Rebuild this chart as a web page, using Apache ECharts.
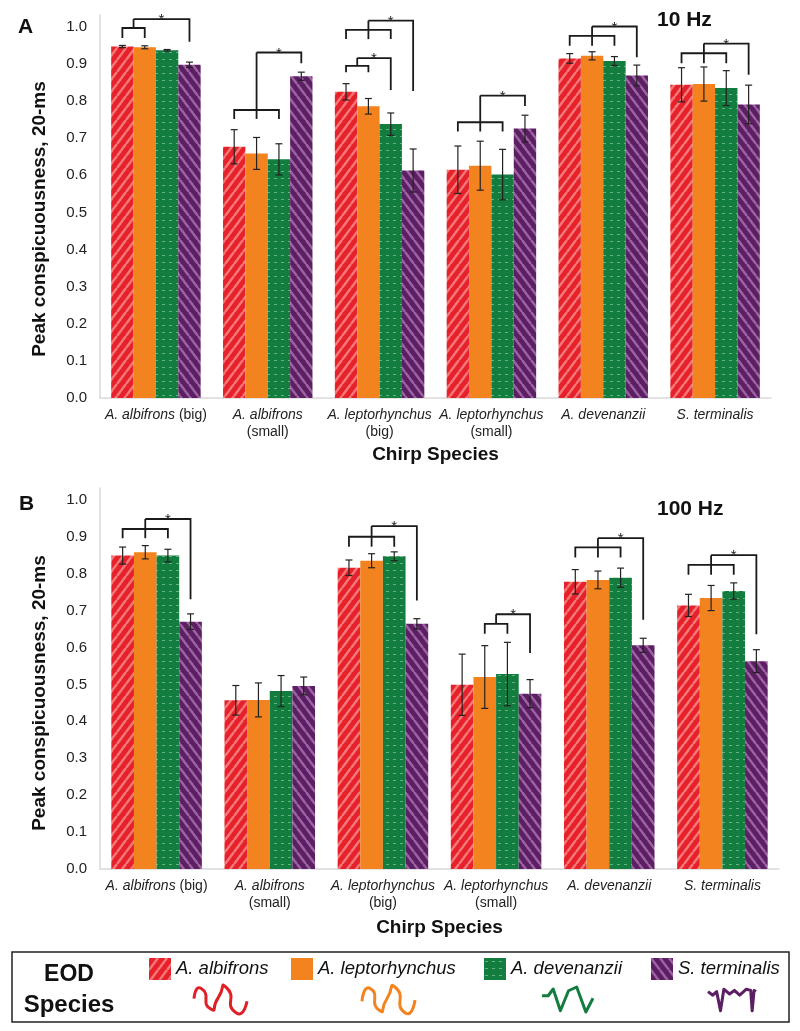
<!DOCTYPE html>
<html>
<head>
<meta charset="utf-8">
<script src="https://cdn.jsdelivr.net/npm/echarts@6.0.0/dist/echarts.min.js"></script>
<style>
html, body { margin: 0; padding: 0; background: #fff; }
#chart { width: 800px; height: 1031px; }
</style>
</head>
<body>
<div id="chart"></div>
<script>
const FONT = '"Liberation Sans", Arial, Helvetica, sans-serif'

// chirp species (x categories) and their tick labels
const categories = ['A. albifrons (big)', 'A. albifrons (small)', 'A. leptorhynchus (big)', 'A. leptorhynchus (small)', 'A. devenanzii', 'S. terminalis']
const tickLabels = ['{i|A. albifrons} (big)', '{i|A. albifrons}\n(small)', '{i|A. leptorhynchus}\n(big)', '{i|A. leptorhynchus}\n(small)', '{i|A. devenanzii}', '{i|S. terminalis}']
// EOD species (series)
const eodSpecies = ['A. albifrons', 'A. leptorhynchus', 'A. devenanzii', 'S. terminalis']

// panel A, 10 Hz
const mean10Albifrons = [0.947, 0.677, 0.825, 0.615, 0.915, 0.844]
const mean10Leptorhynchus = [0.945, 0.659, 0.786, 0.626, 0.922, 0.846]
const mean10Devenanzii = [0.937, 0.643, 0.738, 0.602, 0.908, 0.835]
const mean10Terminalis = [0.898, 0.867, 0.613, 0.726, 0.869, 0.791]
const err10Albifrons = [0.003, 0.046, 0.022, 0.064, 0.013, 0.046]
const err10Leptorhynchus = [0.004, 0.043, 0.021, 0.066, 0.011, 0.046]
const err10Devenanzii = [0.002, 0.042, 0.030, 0.068, 0.012, 0.047]
const err10Terminalis = [0.007, 0.011, 0.058, 0.036, 0.028, 0.052]

// panel B, 100 Hz
const mean100Albifrons = [0.849, 0.457, 0.816, 0.499, 0.778, 0.714]
const mean100Leptorhynchus = [0.858, 0.458, 0.835, 0.520, 0.783, 0.734]
const mean100Devenanzii = [0.849, 0.482, 0.847, 0.528, 0.789, 0.753]
const mean100Terminalis = [0.670, 0.496, 0.664, 0.475, 0.606, 0.563]
const err100Albifrons = [0.023, 0.040, 0.021, 0.083, 0.033, 0.030]
const err100Leptorhynchus = [0.018, 0.046, 0.019, 0.085, 0.024, 0.034]
const err100Devenanzii = [0.017, 0.042, 0.012, 0.086, 0.026, 0.022]
const err100Terminalis = [0.021, 0.024, 0.014, 0.038, 0.019, 0.031]

// significance brackets: [category, lowerFromBar, lowerToBar, lowerLevel, legEnd, upperLevel, targetBar, targetLegEnd]
const brackets10 = [
  [0, 0, 1, 0.997, 0.970, 1.021, 3, 0.960],
  [1, 0, 2, 0.776, 0.752, 0.931, 3, 0.902],
  [2, 0, 1, 0.895, 0.878, 0.916, 2, 0.830],
  [2, 0, 2, 0.992, 0.967, 1.017, 3, 0.827],
  [3, 0, 2, 0.743, 0.718, 0.815, 3, 0.787],
  [4, 0, 2, 0.976, 0.949, 1.001, 3, 0.918],
  [5, 0, 2, 0.929, 0.902, 0.955, 3, 0.871]
]
const brackets100 = [
  [0, 0, 2, 0.921, 0.896, 0.948, 3, 0.731],
  [2, 0, 2, 0.900, 0.873, 0.929, 3, 0.727],
  [3, 1, 2, 0.664, 0.637, 0.690, 3, 0.585],
  [4, 0, 2, 0.871, 0.844, 0.896, 3, 0.675],
  [5, 0, 2, 0.824, 0.797, 0.850, 3, 0.636]
]

// little EOD waveform icons under the legend (normalised shapes)
const waveRed = [[0, 0.45], [0.13, 0.05], [0.32, 0.85], [0.46, 0.4], [0.6, 0.0], [0.8, 1.0], [1, 0.55]]
const waveOrange = [[0, 0.55], [0.15, 0.05], [0.33, 0.9], [0.47, 0.45], [0.62, 0.0], [0.82, 1.0], [1, 0.5]]
const waveGreen = [[0, 0.35], [0.12, 0.35], [0.22, 0.08], [0.36, 0.95], [0.52, 0.15], [0.68, 0.0], [0.86, 1.0], [1, 0.45]]
const waveTerminalis = [[0, 0.15], [0.1, 0.3], [0.18, 0.15], [0.26, 0.95], [0.33, 0.05], [0.45, 0.25], [0.55, 0.1], [0.66, 0.3], [0.8, 0.05], [0.89, 0.1], [0.92, 0.95], [0.96, 0.1], [1, 0.15]]

function stripes (bg, fg, dir) {
  const c = document.createElement('canvas')
  c.width = 9
  c.height = 12
  const g = c.getContext('2d')
  g.fillStyle = bg
  g.fillRect(0, 0, 9, 12)
  g.strokeStyle = fg
  g.lineWidth = 2.5
  for (let k = -1; k <= 1; k++) {
    g.beginPath()
    if (dir > 0) { g.moveTo(k * 9, 12); g.lineTo(k * 9 + 9, 0) } else { g.moveTo(k * 9, 0); g.lineTo(k * 9 + 9, 12) }
    g.stroke()
  }
  return { image: c, repeat: 'repeat' }
}
function dashes (bg, fg) {
  const c = document.createElement('canvas')
  c.width = 7
  c.height = 7
  const g = c.getContext('2d')
  g.fillStyle = bg
  g.fillRect(0, 0, 7, 7)
  g.fillStyle = fg
  g.fillRect(1, 3, 3, 1)
  return { image: c, repeat: 'repeat' }
}

const fills = [
  stripes('#e6212a', '#f4787a', 1),
  '#f2831f',
  dashes('#137c3f', 'rgba(150,215,170,0.6)'),
  stripes('#5d1f63', '#9c63a1', -1)
]

const meanSets = [
  [mean10Albifrons, mean10Leptorhynchus, mean10Devenanzii, mean10Terminalis],
  [mean100Albifrons, mean100Leptorhynchus, mean100Devenanzii, mean100Terminalis]
]
const errSets = [
  [err10Albifrons, err10Leptorhynchus, err10Devenanzii, err10Terminalis],
  [err100Albifrons, err100Leptorhynchus, err100Devenanzii, err100Terminalis]
]
const bracketSets = [brackets10, brackets100]

function barX (api, cat, bar) {
  const band = api.size([1, 0])[0]
  const bw = band * 0.8 / 4
  return api.coord([cat, 0])[0] + (bar - 1.5) * bw
}

function renderError (params, api) {
  const cat = api.value(0)
  const bar = api.value(1)
  const m = api.value(2)
  const e = api.value(3)
  const x = barX(api, cat, bar)
  const yt = api.coord([cat, m + e])[1]
  const yb = api.coord([cat, m - e])[1]
  const cap = 3.5
  const style = { stroke: '#222', lineWidth: 1.2 }
  return {
    type: 'group',
    children: [
      { type: 'line', shape: { x1: x, y1: yt, x2: x, y2: yb }, style },
      { type: 'line', shape: { x1: x - cap, y1: yt, x2: x + cap, y2: yt }, style },
      { type: 'line', shape: { x1: x - cap, y1: yb, x2: x + cap, y2: yb }, style }
    ]
  }
}

function renderBracket (params, api) {
  const cat = api.value(0)
  const from = api.value(1)
  const to = api.value(2)
  const yLow = api.coord([cat, api.value(3)])[1]
  const yLeg = api.coord([cat, api.value(4)])[1]
  const yTop = api.coord([cat, api.value(5)])[1]
  const target = api.value(6)
  const yTarget = api.coord([cat, api.value(7)])[1]
  const xf = barX(api, cat, from)
  const xt = barX(api, cat, to)
  const xm = (xf + xt) / 2
  const xg = barX(api, cat, target)
  const stemBottom = (to - from) % 2 === 0 ? yLeg : yLow
  const style = { stroke: '#1a1a1a', lineWidth: 1.8, fill: null }
  return {
    type: 'group',
    children: [
      { type: 'polyline', shape: { points: [[xf, yLeg], [xf, yLow], [xt, yLow], [xt, yLeg]] }, style },
      { type: 'line', shape: { x1: xm, y1: stemBottom, x2: xm, y2: yTop }, style },
      { type: 'polyline', shape: { points: [[xm, yTop], [xg, yTop], [xg, yTarget]] }, style },
      { type: 'text', style: { text: '*', x: (xm + xg) / 2, y: yTop + 1, align: 'center', verticalAlign: 'middle', font: '15px ' + FONT, fill: '#222' } }
    ]
  }
}

const grids = [
  { left: 100, right: 29, top: 15, bottom: 633 },
  { left: 100, right: 21, top: 488, bottom: 162 }
]

const xAxes = grids.map((g, k) => ({
  type: 'category',
  gridIndex: k,
  data: categories,
  name: 'Chirp Species',
  nameLocation: 'middle',
  nameGap: k === 0 ? 47 : 49,
  nameTextStyle: { fontSize: 19, fontWeight: 'bold', color: '#111', fontFamily: FONT },
  axisLine: { lineStyle: { color: '#d9d9d9', width: 1.5 } },
  axisTick: { show: false },
  axisLabel: {
    interval: 0,
    margin: 9,
    fontSize: 14,
    lineHeight: 17,
    color: '#222',
    fontFamily: FONT,
    formatter: (v, i) => tickLabels[i],
    rich: { i: { fontStyle: 'italic', fontSize: 14, lineHeight: 17, color: '#222', fontFamily: FONT } }
  }
}))

const yAxes = grids.map((g, k) => ({
  type: 'value',
  gridIndex: k,
  min: 0,
  max: 1.032,
  interval: 0.1,
  axisLine: { show: true, lineStyle: { color: '#d9d9d9', width: 1.5 } },
  axisTick: { show: false },
  splitLine: { show: false },
  axisLabel: {
    margin: 13,
    fontSize: 15,
    color: '#222',
    fontFamily: FONT,
    formatter: v => (v <= 1.0001 ? v.toFixed(1) : '')
  }
}))

const series = []
for (let k = 0; k < 2; k++) {
  eodSpecies.forEach((name, s) => {
    series.push({
      type: 'bar',
      name,
      xAxisIndex: k,
      yAxisIndex: k,
      data: meanSets[k][s],
      barGap: '0%',
      barCategoryGap: '20%',
      itemStyle: { color: fills[s] },
      emphasis: { disabled: true }
    })
  })
  const errData = []
  eodSpecies.forEach((name, s) => {
    meanSets[k][s].forEach((m, i) => errData.push([i, s, m, errSets[k][s][i]]))
  })
  series.push({
    type: 'custom',
    xAxisIndex: k,
    yAxisIndex: k,
    z: 5,
    silent: true,
    clip: false,
    data: errData,
    encode: { x: 0, y: 2 },
    renderItem: renderError
  })
  series.push({
    type: 'custom',
    xAxisIndex: k,
    yAxisIndex: k,
    z: 5,
    silent: true,
    clip: false,
    data: bracketSets[k],
    encode: { x: 0, y: 3 },
    renderItem: renderBracket
  })
}

function wave (shape, x0, y0, w, h, color, smooth) {
  return {
    type: 'polyline',
    shape: { points: shape.map(p => [x0 + p[0] * w, y0 + p[1] * h]), smooth },
    style: { stroke: color, lineWidth: 3, fill: null, lineJoin: 'round' }
  }
}

const legendLefts = [149, 291, 484, 651]
const legendStyle = { fontStyle: 'italic', fontSize: 18.5, color: '#111', fontFamily: FONT }

const chartDom = document.getElementById('chart')
const myChart = echarts.init(chartDom)
const option = {
  animation: false,
  backgroundColor: '#fff',
  grid: grids,
  xAxis: xAxes,
  yAxis: yAxes,
  legend: eodSpecies.map((name, i) => ({
    data: [name],
    left: legendLefts[i],
    top: 958,
    padding: 0,
    itemWidth: 22,
    itemHeight: 22,
    icon: 'rect',
    selectedMode: false,
    textStyle: legendStyle
  })),
  graphic: [
    { type: 'text', x: 18, y: 27.5, style: { text: 'A', font: 'bold 21px ' + FONT, fill: '#111', verticalAlign: 'middle' } },
    { type: 'text', x: 19, y: 504, style: { text: 'B', font: 'bold 21px ' + FONT, fill: '#111', verticalAlign: 'middle' } },
    { type: 'text', x: 657, y: 20.5, style: { text: '10 Hz', font: 'bold 21px ' + FONT, fill: '#111', verticalAlign: 'middle' } },
    { type: 'text', x: 657, y: 509, style: { text: '100 Hz', font: 'bold 21px ' + FONT, fill: '#111', verticalAlign: 'middle' } },
    { type: 'text', x: 40, y: 219, rotation: Math.PI / 2, style: { text: 'Peak conspicuousness, 20-ms', font: 'bold 19px ' + FONT, fill: '#111', align: 'center', verticalAlign: 'middle' } },
    { type: 'text', x: 40, y: 693, rotation: Math.PI / 2, style: { text: 'Peak conspicuousness, 20-ms', font: 'bold 19px ' + FONT, fill: '#111', align: 'center', verticalAlign: 'middle' } },
    { type: 'rect', shape: { x: 12, y: 952, width: 777, height: 70 }, style: { fill: null, stroke: '#222', lineWidth: 1.5 } },
    { type: 'text', x: 69, y: 975, style: { text: 'EOD', font: 'bold 23px ' + FONT, fill: '#111', align: 'center', verticalAlign: 'middle' } },
    { type: 'text', x: 69, y: 1005, style: { text: 'Species', font: 'bold 24px ' + FONT, fill: '#111', align: 'center', verticalAlign: 'middle' } },
    wave(waveRed, 194, 987, 53, 26, '#e02027', true),
    wave(waveOrange, 362, 987, 53, 26, '#f2831f', true),
    wave(waveGreen, 542, 987, 51, 25, '#137c3f', false),
    wave(waveTerminalis, 708, 988, 48, 24, '#5d1f63', false)
  ],
  series
}
option && myChart.setOption(option)
</script>
</body>
</html>
